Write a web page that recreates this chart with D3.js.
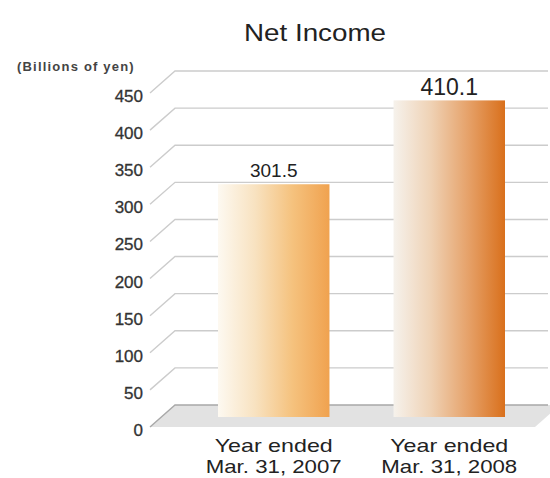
<!DOCTYPE html>
<html>
<head>
<meta charset="utf-8">
<script src="https://cdn.jsdelivr.net/npm/d3@7"></script>
<style>
  html, body { margin: 0; padding: 0; background: #fff; }
  svg { display: block; font-family: "Liberation Sans", Arial, Helvetica, sans-serif; }
</style>
</head>
<body>
<svg id="chart" width="550" height="478"></svg>
<script>
// Net income, billions of yen
const categories = [["Year ended", "Mar. 31, 2007"], ["Year ended", "Mar. 31, 2008"]];
const values = [301.5, 410.1];
const valueLabels = ["301.5", "410.1"];
const tickValues = [0, 50, 100, 150, 200, 250, 300, 350, 400, 450];
const barColors = [
  ["#fdf9f1", "#f8e2c0", "#f5c27e", "#f0a24f"],
  ["#f6f2ec", "#efd2b5", "#e6a26a", "#d9701c"]
];

const svg = d3.select("#chart");
const defs = svg.append("defs");

// depth offset of the back wall relative to the front edge
const depthX = 25, depthY = -22;
const frontX = 150, backX = frontX + depthX;

// grid scale on the back wall, bar scale at mid depth
const yGrid = d3.scaleLinear().domain([0, 450]).range([405, 71]);
const yBar = d3.scaleLinear().domain([0, 450]).range([417, 69.6]);
const x = d3.scaleBand().domain(d3.range(categories.length))
  .range([175, 548]).paddingInner(0.365).paddingOuter(0.245);

// title
svg.append("text").attr("x", 315).attr("y", 41).attr("text-anchor", "middle")
  .attr("font-size", 24).attr("textLength", 142).attr("lengthAdjust", "spacingAndGlyphs")
  .attr("fill", "#222").text("Net Income");

// unit label
svg.append("text").attr("x", 17).attr("y", 71)
  .attr("font-size", 13).attr("font-weight", "bold").attr("letter-spacing", 1.2)
  .attr("fill", "#444").text("(Billions of yen)");

// floor
const y0 = yGrid(0);
svg.append("polygon")
  .attr("points", [[backX, y0], [560, y0], [560 - depthX, y0 - depthY], [frontX, y0 - depthY]].map(p => p.join(",")).join(" "))
  .attr("fill", "#e2e2e2");

// gridlines: diagonal on the left wall, horizontal along the back wall
const grid = svg.append("g").attr("fill", "none").attr("stroke-width", 1.4);
tickValues.forEach(v => {
  const yb = yGrid(v);
  grid.append("polyline")
    .attr("points", `${frontX},${yb - depthY} ${backX},${yb} 548,${yb}`)
    .attr("stroke", v === 0 ? "#a8a8a8" : "#cccccc");
});

// tick labels
svg.append("g").selectAll("text").data(tickValues).join("text")
  .attr("x", 143).attr("y", d => yGrid(d) - depthY + 3)
  .attr("dy", "0.35em").attr("text-anchor", "end")
  .attr("font-size", 17).attr("fill", "#333")
  .attr("stroke", "#333").attr("stroke-width", 0.3)
  .text(d => d);

// bar gradients
barColors.forEach((cols, i) => {
  const g = defs.append("linearGradient").attr("id", "barGrad" + i)
    .attr("x1", "0%").attr("x2", "100%").attr("y1", "0%").attr("y2", "0%");
  cols.forEach((c, j) => g.append("stop").attr("offset", (j / (cols.length - 1) * 100) + "%").attr("stop-color", c));
});

// bars
svg.append("g").selectAll("rect").data(values).join("rect")
  .attr("x", (d, i) => x(i)).attr("width", x.bandwidth())
  .attr("y", d => yBar(d)).attr("height", d => yBar(0) - yBar(d))
  .attr("fill", (d, i) => `url(#barGrad${i})`);

// value labels
svg.append("g").selectAll("text").data(values).join("text")
  .attr("x", (d, i) => x(i) + x.bandwidth() / 2)
  .attr("y", (d, i) => yBar(d) - (i === 1 ? 5 : 7))
  .attr("text-anchor", "middle")
  .attr("font-size", (d, i) => i === 1 ? 23 : 19)
  .attr("fill", "#222")
  .text((d, i) => valueLabels[i]);

// category labels, two lines each, widened to the label block
const lineWidths = [118, 136];
const catG = svg.append("g").attr("text-anchor", "middle").attr("font-size", 19).attr("fill", "#222");
categories.forEach((lines, i) => {
  lines.forEach((line, j) => {
    catG.append("text")
      .attr("x", x(i) + x.bandwidth() / 2)
      .attr("y", 452 + j * 21)
      .attr("textLength", lineWidths[j])
      .attr("lengthAdjust", "spacingAndGlyphs")
      .text(line);
  });
});
</script>
</body>
</html>
